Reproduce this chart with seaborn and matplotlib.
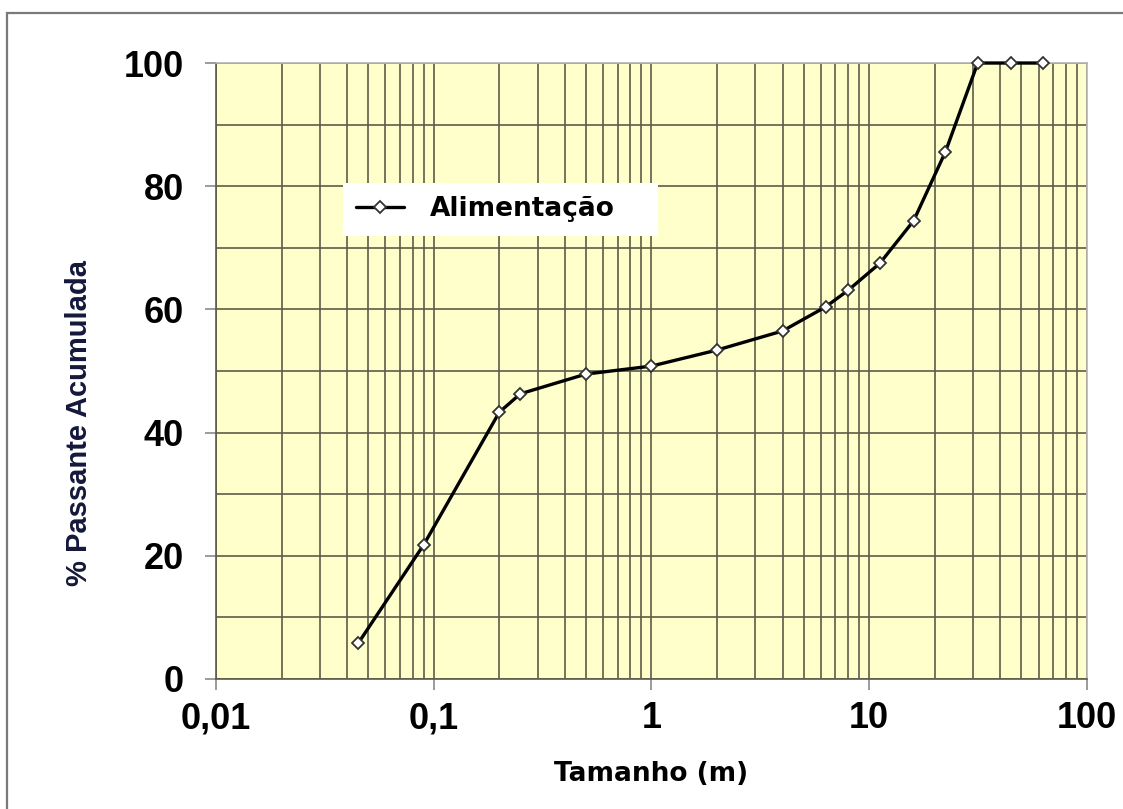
import matplotlib
matplotlib.use("Agg")
import matplotlib.pyplot as plt
import matplotlib.ticker as mticker
from matplotlib.patches import Rectangle
import seaborn as sns

# Curve data
tamanho = [0.045, 0.09, 0.2, 0.25, 0.5, 1, 2, 4, 6.3, 8, 11.2, 16, 22.4, 31.5, 45, 63]
passante = [5.8, 21.8, 43.3, 46.3, 49.5, 50.8, 53.4, 56.5, 60.4, 63.1, 67.5, 74.4, 85.6, 100, 100, 100]
serie = "Alimentação"

x_ticks = [0.01, 0.1, 1, 10, 100]
x_tick_labels = ["0,01", "0,1", "1", "10", "100"]
y_ticks = [0, 20, 40, 60, 80, 100]
y_tick_labels = ["0", "20", "40", "60", "80", "100"]

sns.set_theme(style="white")
plt.rcParams["font.family"] = ["Liberation Sans", "DejaVu Sans"]

fig = plt.figure(figsize=(11.23, 8.09), dpi=100)
ax = fig.add_axes([0.1923, 0.1607, 0.7756, 0.7614])
ax.set_facecolor("#FFFFCC")

grid_col = "#5c5c48"

sns.lineplot(x=tamanho, y=passante, color="black", linewidth=2.4,
             marker="D", markersize=6, markerfacecolor="white",
             markeredgecolor="#333333", markeredgewidth=1.3,
             label=serie, ax=ax, zorder=5, clip_on=False)

ax.set_xscale("log")
ax.set_xlim(0.01, 100)
ax.set_ylim(0, 100)

ax.set_xticks(x_ticks)
ax.set_xticklabels(x_tick_labels)
ax.xaxis.set_minor_locator(mticker.LogLocator(base=10, subs=range(2, 10)))
ax.xaxis.set_minor_formatter(mticker.NullFormatter())
ax.set_yticks(y_ticks)
ax.set_yticklabels(y_tick_labels)
ax.yaxis.set_minor_locator(mticker.MultipleLocator(10))

ax.grid(True, which="both", axis="both", color=grid_col, linewidth=1.2)
ax.set_axisbelow(True)

ax.tick_params(axis="both", which="major", length=8, width=1.2, color="#8a8a8a",
               labelsize=26, labelcolor="black", left=True, bottom=True)
ax.tick_params(axis="x", which="major", pad=8)
ax.tick_params(axis="y", which="major", pad=15)
ax.tick_params(axis="both", which="minor", length=0)
for lab in ax.get_xticklabels() + ax.get_yticklabels():
    lab.set_fontweight("bold")

for side in ["left", "bottom"]:
    ax.spines[side].set_color(grid_col)
    ax.spines[side].set_linewidth(1.2)
for side in ["top", "right"]:
    ax.spines[side].set_color("#b5b5b5")
    ax.spines[side].set_linewidth(1.2)

ax.set_xlabel("Tamanho (m)", family="DejaVu Sans", fontweight="bold",
              fontsize=19, color="black", labelpad=18)
ax.set_ylabel("% Passante Acumulada", fontweight="bold", fontsize=21,
              color="#14183a")
ax.yaxis.set_label_coords(-0.141, 0.416)

leg = ax.legend(loc="upper left", bbox_to_anchor=(0.1458, 0.725, 0.3617, 0.08),
                mode="expand", borderaxespad=0,
                frameon=True, fancybox=False, framealpha=1, facecolor="white",
                edgecolor="white", borderpad=0.5, handlelength=1.8,
                handletextpad=1.0, labelcolor="black",
                prop={"family": "DejaVu Sans", "weight": "bold", "size": 19})
leg.get_frame().set_linewidth(0)

# outer frame of the picture (left and top edges visible)
fig.add_artist(Rectangle((7 / 1123, -0.05), 1.2, (809 - 13) / 809 + 0.05,
                         transform=fig.transFigure, fill=False,
                         edgecolor="#7a7a7a", linewidth=1.6))

fig.savefig("out.png", dpi=100)
